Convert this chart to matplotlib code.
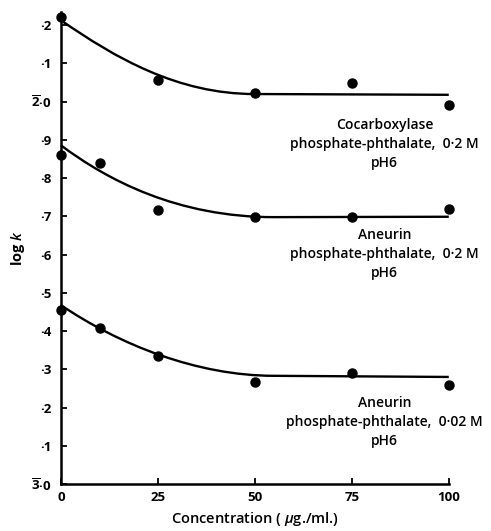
import numpy as np
import matplotlib
matplotlib.use("Agg")
import matplotlib.pyplot as plt
from matplotlib.path import Path
from matplotlib.patches import PathPatch

plt.rcParams['font.family'] = ['Open Sans', 'DejaVu Sans']
plt.rcParams['mathtext.fontset'] = 'custom'
plt.rcParams['mathtext.rm'] = 'Open Sans:bold'
plt.rcParams['mathtext.it'] = 'Open Sans:semibold:italic'
plt.rcParams['mathtext.bf'] = 'Open Sans:bold'

# measured points (log k, with 3-bar.0 = -3.0)
cocarb_x = [0, 25, 50, 75, 100]
cocarb_y = [-1.779, -1.944, -1.978, -1.952, -2.009]

aneurin02_x = [0, 10, 25, 50, 75, 100]
aneurin02_y = [-2.140, -2.161, -2.284, -2.302, -2.302, -2.281]

aneurin002_x = [0, 10, 25, 50, 75, 100]
aneurin002_y = [-2.545, -2.592, -2.665, -2.733, -2.710, -2.741]

# hand drawn curves: bezier control points (start, c1, c2, plateau start, end)
cocarb_curve = [(0, -1.787), (14, -1.885), (30, -1.980), (50, -1.980), (100, -1.982)]
aneurin02_curve = [(0, -2.114), (12, -2.205), (30, -2.302), (55, -2.302), (100, -2.301)]
aneurin002_curve = [(0, -2.532), (15, -2.635), (35, -2.717), (55, -2.717), (100, -2.720)]

labels = ["Cocarboxylase\nphosphate-phthalate,  0·2 M\npH6",
          "Aneurin\nphosphate-phthalate,  0·2 M\npH6",
          "Aneurin\nphosphate-phthalate,  0·02 M\npH6"]
label_y = [-2.110, -2.399, -2.838]

ytick_vals = [-1.8, -1.9, -2.0, -2.1, -2.2, -2.3, -2.4, -2.5, -2.6, -2.7, -2.8, -2.9, -3.0]
ytick_labels = ["·2", "·1", r"$\overline{\mathrm{2}}$·0", "·9", "·8", "·7", "·6", "·5",
                "·4", "·3", "·2", "·1", r"$\overline{\mathrm{3}}$·0"]
xtick_vals = [0, 25, 50, 75, 100]


fig = plt.figure(figsize=(4.91, 5.31), dpi=100)
ax = fig.add_axes([0.124, 0.0885, 0.79, 0.8885])

codes = [Path.MOVETO, Path.CURVE4, Path.CURVE4, Path.CURVE4, Path.LINETO]
for curve in [cocarb_curve, aneurin02_curve, aneurin002_curve]:
    patch = PathPatch(Path(curve, codes), facecolor='none', edgecolor='black',
                      lw=1.7, clip_on=False)
    ax.add_patch(patch)

for px, py in [(cocarb_x, cocarb_y), (aneurin02_x, aneurin02_y), (aneurin002_x, aneurin002_y)]:
    ax.plot(px, py, 'o', color='black', ms=6.5, clip_on=False, zorder=5)

for lab, ly in zip(labels, label_y):
    ax.text(83.5, ly, lab, ha='center', va='center', fontsize=10, fontweight='semibold',
            linespacing=1.45)

ax.set_xlim(0, 100)
ax.set_ylim(-3.0, -1.766)
ax.set_xticks(xtick_vals)
ax.set_yticks(ytick_vals)
ax.set_yticklabels(ytick_labels)
ax.tick_params(direction='in', width=1.3, length=4, labelsize=9.5)
ax.tick_params(axis='y', pad=7)
ax.tick_params(axis='x', pad=5)
for t in ax.get_xticklabels() + ax.get_yticklabels():
    t.set_fontweight('bold')

for s in ['top', 'right']:
    ax.spines[s].set_visible(False)
for s in ['left', 'bottom']:
    ax.spines[s].set_linewidth(1.8)

ax.set_xlabel(r"Concentration ( $\mu$g./ml.)", fontsize=10.5, fontweight='semibold', labelpad=4)
ax.set_ylabel(r"log $k$", fontsize=10.5, fontweight='bold', labelpad=3)

fig.savefig("out.png", dpi=100)
